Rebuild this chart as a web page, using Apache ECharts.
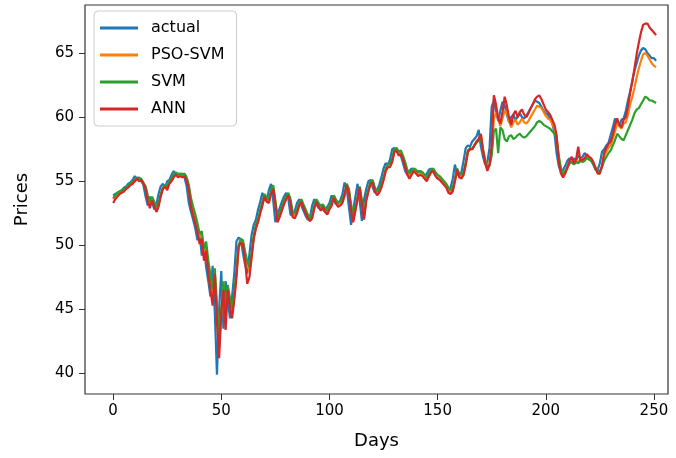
<!DOCTYPE html>
<html>
<head>
<meta charset="utf-8">
<script src="https://cdn.jsdelivr.net/npm/echarts@6/dist/echarts.min.js"></script>
<style>html,body{margin:0;padding:0;background:#fff}#c{width:676px;height:458px}</style>
</head>
<body>
<div id="c"></div>
<script>
const seriesNames = ["actual", "PSO-SVM", "SVM", "ANN"];
const xTicks = [0, 50, 100, 150, 200, 250];
const yTicks = [40, 45, 50, 55, 60, 65];

const actual = [
53.9,54.0,54.1,54.2,54.3,54.5,54.6,54.8,54.9,55.1,
55.4,55.2,55.3,55.0,54.7,53.8,53.1,53.8,53.4,52.8,
53.2,54.0,54.6,54.8,54.5,55.0,55.1,55.5,55.8,55.5,
55.6,55.5,55.6,55.3,54.6,53.3,52.6,52.0,51.3,50.4,
50.9,49.2,50.0,48.3,47.2,46.0,48.4,44.8,39.9,45.0,
48.0,43.5,47.2,45.8,44.3,46.0,47.8,50.3,50.6,50.5,
49.4,48.5,47.8,49.3,50.8,51.6,52.0,52.8,53.4,54.1,
53.6,53.5,54.3,54.8,53.5,51.8,52.4,52.9,53.4,53.8,
54.1,53.6,52.4,52.3,52.7,53.3,53.6,53.1,52.7,52.3,
52.0,52.2,53.1,53.6,53.2,52.9,53.2,52.8,52.6,53.0,
53.3,53.9,53.5,53.2,53.3,53.5,54.0,54.9,54.4,53.0,
51.6,52.8,53.8,54.8,53.4,51.9,53.6,54.4,55.0,55.1,
54.5,54.1,54.3,54.7,55.3,56.0,56.4,56.3,56.7,57.5,
57.6,57.3,57.4,57.0,56.4,55.8,55.5,55.8,56.0,55.9,
55.7,55.8,55.7,55.5,55.3,55.6,55.9,56.0,55.7,55.5,
55.4,55.2,55.0,54.8,54.6,54.3,54.5,55.2,56.3,55.6,
55.4,55.7,56.6,57.6,57.8,57.7,58.1,58.3,58.5,59.0,
57.7,56.9,56.3,56.5,57.6,60.8,61.3,60.4,59.7,60.5,
61.2,60.9,60.2,59.6,60.0,60.2,59.8,60.0,60.3,60.0,
59.9,60.1,60.4,60.7,61.0,61.3,61.2,61.1,60.8,60.5,
60.3,60.2,59.9,59.5,58.8,57.2,56.2,55.7,55.9,56.2,
56.6,56.8,56.5,56.8,56.6,57.0,56.8,56.9,57.2,57.0,
56.9,56.6,56.3,55.9,55.9,56.4,57.3,57.5,57.8,58.0,
58.6,59.2,59.9,59.5,59.3,59.8,59.9,60.5,61.3,62.0,
62.8,63.6,64.2,64.8,65.2,65.4,65.3,65.0,64.8,64.6,
64.6,64.4
];

const psoSvm = [
53.6,53.8,54.0,54.1,54.2,54.3,54.4,54.6,54.7,54.9,
55.0,55.2,55.1,55.1,54.8,54.5,53.7,53.2,53.6,53.2,
52.8,53.2,53.9,54.4,54.6,54.5,54.9,55.1,55.4,55.6,
55.4,55.5,55.4,55.5,55.2,54.5,53.4,52.7,52.1,51.4,
50.6,50.8,49.4,49.9,48.4,47.3,46.2,47.9,45.0,42.0,
44.6,46.9,44.3,46.6,45.6,44.8,46.0,47.7,49.8,50.3,
50.2,49.3,48.5,48.0,49.2,50.6,51.4,51.9,52.6,53.2,
53.8,53.5,53.4,54.1,54.5,53.3,52.0,52.4,52.8,53.3,
53.6,53.9,53.4,52.4,52.3,52.6,53.1,53.4,53.0,52.6,
52.2,51.9,52.2,52.9,53.4,53.1,52.8,53.0,52.7,52.5,
52.9,53.2,53.7,53.4,53.1,53.2,53.4,53.9,54.6,54.2,
53.0,52.0,52.8,53.6,54.4,53.3,52.2,53.5,54.2,54.8,
54.9,54.3,54.0,54.2,54.6,55.1,55.8,56.1,56.2,56.6,
57.3,57.4,57.1,57.2,56.8,56.3,55.7,55.4,55.6,55.8,
55.7,55.5,55.6,55.5,55.3,55.1,55.4,55.7,55.8,55.5,
55.3,55.2,55.0,54.8,54.6,54.3,54.1,54.3,55.0,55.9,
55.4,55.3,55.5,56.3,57.3,57.5,57.5,57.8,58.1,58.3,
58.6,57.5,56.7,56.1,56.3,57.3,59.8,60.4,59.9,59.3,
59.9,60.5,60.4,59.7,59.2,59.6,59.8,59.4,59.6,59.9,
59.6,59.5,59.7,60.0,60.3,60.6,60.9,60.8,60.7,60.4,
60.1,59.9,59.8,59.5,59.1,58.4,56.9,55.9,55.5,55.7,
56.0,56.4,56.6,56.3,56.6,56.4,56.8,56.6,56.7,57.0,
56.8,56.7,56.4,56.1,55.7,55.7,56.2,57.0,57.3,57.6,
57.8,58.3,58.9,59.5,59.3,59.1,59.5,59.6,60.2,61.0,
61.6,62.3,63.1,63.8,64.4,64.9,65.0,64.8,64.5,64.2,
64.0,63.9
];

const svm = [
53.7,53.9,54.1,54.2,54.3,54.4,54.5,54.7,54.8,55.0,
55.1,55.3,55.2,55.2,54.9,54.6,53.9,53.4,53.8,53.4,
53.0,53.3,54.0,54.5,54.7,54.6,55.0,55.2,55.5,55.7,
55.5,55.6,55.5,55.6,55.3,54.7,53.7,53.0,52.4,51.7,
50.9,51.1,49.7,50.3,48.8,47.7,46.6,48.2,45.4,42.5,
45.0,47.2,44.7,46.9,45.9,45.1,46.3,47.9,50.0,50.5,
50.4,49.5,48.8,48.3,49.4,50.8,51.6,52.1,52.8,53.4,
54.0,53.7,53.6,54.3,54.7,53.5,52.2,52.6,53.0,53.5,
53.8,54.1,53.6,52.6,52.5,52.8,53.3,53.6,53.2,52.8,
52.4,52.1,52.4,53.1,53.6,53.3,53.0,53.2,52.9,52.7,
53.1,53.4,53.9,53.6,53.3,53.4,53.6,54.1,54.8,54.4,
53.2,52.2,53.0,53.8,54.6,53.5,52.4,53.7,54.4,55.0,
55.1,54.5,54.2,54.4,54.8,55.3,56.0,56.3,56.4,56.8,
57.5,57.6,57.3,57.4,57.0,56.5,55.9,55.6,55.8,56.0,
55.9,55.7,55.8,55.7,55.5,55.3,55.6,55.9,56.0,55.7,
55.5,55.4,55.2,55.0,54.8,54.5,54.3,54.5,55.2,56.0,
55.6,55.5,55.7,56.5,57.4,57.6,57.5,57.8,58.0,58.2,
58.4,57.4,56.6,56.1,56.2,57.0,58.9,59.1,57.2,59.2,
59.0,58.3,58.1,58.5,58.6,58.3,58.4,58.6,58.7,58.5,
58.4,58.5,58.7,58.9,59.1,59.3,59.6,59.7,59.6,59.4,
59.3,59.2,59.1,58.9,58.7,58.3,57.0,56.0,55.6,55.8,
56.1,56.4,56.5,56.3,56.5,56.4,56.6,56.5,56.6,56.8,
56.7,56.6,56.3,56.0,55.8,55.8,56.1,56.6,56.9,57.2,
57.4,57.8,58.2,58.7,58.5,58.3,58.2,58.6,59.0,59.4,
59.8,60.3,60.6,60.7,61.0,61.3,61.6,61.5,61.3,61.3,
61.2,61.1
];

const ann = [
53.3,53.6,53.8,54.0,54.1,54.2,54.4,54.5,54.7,54.8,
55.0,55.2,55.0,55.1,54.8,54.4,53.5,52.9,53.5,53.1,
52.6,53.0,53.8,54.4,54.6,54.3,54.8,55.0,55.3,55.5,
55.3,55.4,55.3,55.4,55.1,54.3,53.0,52.3,51.7,51.0,
50.1,50.5,48.8,49.6,47.8,46.5,45.3,47.8,44.0,41.2,
44.8,46.5,43.4,46.5,45.2,44.3,45.7,47.5,49.9,50.2,
50.1,48.8,47.0,47.5,49.0,50.5,51.3,51.8,52.5,53.1,
53.8,53.4,53.3,54.0,54.4,53.2,51.8,52.2,52.7,53.2,
53.6,53.9,53.3,52.2,52.1,52.5,53.1,53.4,52.9,52.5,
52.1,51.9,52.1,52.9,53.4,53.0,52.7,53.0,52.6,52.4,
52.8,53.1,53.7,53.3,53.0,53.1,53.3,53.9,54.7,54.1,
52.7,51.8,52.7,53.6,54.5,53.1,52.0,53.5,54.2,54.8,
54.9,54.2,53.9,54.1,54.5,55.1,55.8,56.1,56.1,56.5,
57.3,57.4,57.0,57.1,56.7,56.1,55.5,55.2,55.5,55.8,
55.6,55.4,55.5,55.4,55.2,55.0,55.4,55.7,55.8,55.4,
55.2,55.1,54.9,54.7,54.5,54.1,54.0,54.2,55.0,55.9,
55.3,55.2,55.5,56.3,57.3,57.5,57.5,57.8,58.1,58.3,
58.7,57.4,56.4,55.8,56.3,57.8,61.7,61.0,59.9,59.5,
60.4,61.6,60.9,60.0,59.4,60.2,60.5,60.0,60.4,60.6,
60.2,60.0,60.3,60.7,61.0,61.4,61.6,61.7,61.4,61.0,
60.6,60.4,60.2,59.8,59.4,58.6,56.5,55.6,55.3,55.6,
56.1,56.6,56.9,56.4,56.7,57.7,56.6,56.7,56.8,57.1,
56.9,56.8,56.5,56.0,55.6,55.6,56.2,57.2,57.6,57.9,
58.1,58.6,59.4,59.9,59.4,59.2,59.8,60.0,60.8,61.9,
62.8,63.8,64.9,65.8,66.6,67.2,67.3,67.3,67.0,66.8,
66.6,66.4
];

const colors = ["#1f77b4", "#ff7f0e", "#2ca02c", "#d62728"];
const allData = [actual, psoSvm, svm, ann];
const FONT = "DejaVu Sans";

const chart = echarts.init(document.getElementById('c'), null, {renderer: 'canvas'});
chart.setOption({
  animation: false,
  backgroundColor: '#fff',
  grid: {
    left: 85, right: 8, top: 5, bottom: 64,
    show: true, borderColor: '#333', borderWidth: 1.2, backgroundColor: 'transparent'
  },
  legend: {
    orient: 'vertical',
    left: 94, top: 11,
    data: seriesNames,
    icon: 'rect',
    itemWidth: 38, itemHeight: 3,
    itemGap: 9,
    backgroundColor: 'rgba(255,255,255,0.8)',
    borderColor: '#ccc', borderWidth: 1, borderRadius: 4,
    padding: [8, 12, 8, 6],
    textStyle: {fontFamily: FONT, fontSize: 16, color: '#000', lineHeight: 18, padding: [0, 0, 0, 8]}
  },
  xAxis: {
    type: 'value',
    min: -13, max: 256.5,
    name: 'Days', nameLocation: 'middle', nameGap: 38,
    nameTextStyle: {fontFamily: FONT, fontSize: 18, color: '#000'},
    axisLine: {show: false, onZero: false},
    axisTick: {show: true, length: 6, customValues: xTicks, lineStyle: {color: '#333'}},
    axisLabel: {customValues: xTicks, fontFamily: FONT, fontSize: 15, color: '#000', margin: 10},
    splitLine: {show: false}
  },
  yAxis: {
    type: 'value',
    min: 38.4, max: 68.75,
    name: 'Prices', nameLocation: 'middle', nameGap: 54, nameRotate: 90,
    nameTextStyle: {fontFamily: FONT, fontSize: 18, color: '#000'},
    axisLine: {show: false, onZero: false},
    axisTick: {show: true, length: 6, customValues: yTicks, lineStyle: {color: '#333'}},
    axisLabel: {customValues: yTicks, fontFamily: FONT, fontSize: 15, color: '#000', margin: 11},
    splitLine: {show: false}
  },
  series: seriesNames.map((n, k) => ({
    name: n,
    type: 'line',
    data: allData[k].map((v, i) => [i, v]),
    showSymbol: false,
    symbol: 'none',
    color: colors[k],
    lineStyle: {width: 2.2, color: colors[k]},
    z: 2 + k
  }))
});
</script>
</body>
</html>
